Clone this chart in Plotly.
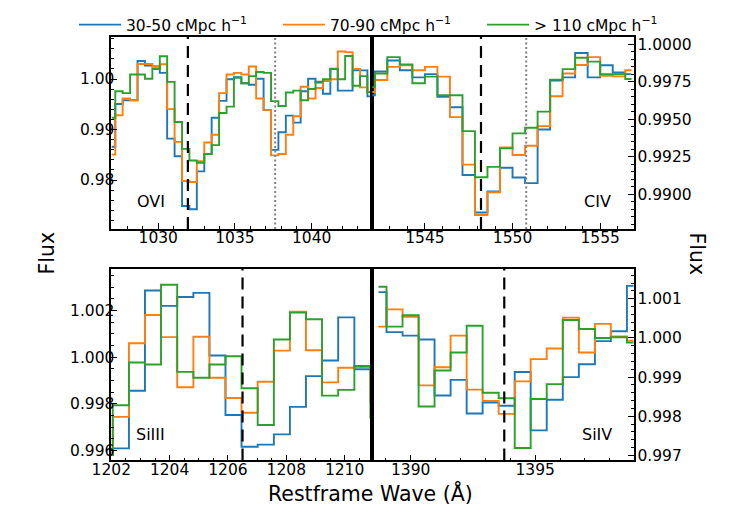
import plotly.graph_objects as go

# OVI panel (restframe wavelength, Angstrom) and stacked flux
wave_ovi = [1026.96, 1027.44, 1027.92, 1028.41, 1028.89, 1029.37, 1029.86, 1030.34,
            1030.82, 1031.31, 1031.79, 1032.27, 1032.76, 1033.24, 1033.72, 1034.21,
            1034.69, 1035.17, 1035.66, 1036.14, 1036.62, 1037.11, 1037.59, 1038.07,
            1038.56, 1039.04, 1039.52, 1040.01, 1040.49, 1040.97, 1041.46, 1041.94,
            1042.42, 1042.91, 1043.39, 1043.87]
ovi_30_50 = [0.98660, 0.99505, 0.99581, 0.99581, 1.00356, 1.00267, 1.00248, 1.00121,
             0.98819, 0.98470, 0.97486, 0.97422, 0.98171, 0.98514, 0.99232, 0.99568,
             0.99994, 1.00038, 0.99917, 0.99886, 1.00006, 0.99390, 0.98597, 0.98946,
             0.99276, 0.99137, 0.99759, 1.00006, 0.99930, 0.99708, 1.00203, 0.99771,
             0.99771, 1.00171, 1.00171, 0.99657]
ovi_70_90 = [0.98502, 0.99283, 0.99613, 0.99581, 1.00298, 1.00298, 1.00248, 1.00292,
             0.99403, 0.98756, 0.97981, 0.97962, 0.98375, 0.98743, 0.98895, 0.99721,
             1.00089, 1.00121, 1.00089, 1.00248, 0.99613, 0.99390, 0.98489, 0.98514,
             0.98895, 0.99263, 0.99848, 0.99613, 0.99822, 0.99962, 0.99994, 1.00546,
             1.00533, 1.00197, 0.99835, 0.99740]
ovi_110 = [0.99232, 0.99759, 0.99721, 1.00089, 1.00089, 1.00006, 1.00197, 1.00451,
           0.99943, 0.99149, 0.98616, 0.98387, 0.98343, 0.98514, 0.98692, 0.99327,
           0.99454, 1.00025, 0.99917, 1.00057, 1.00140, 1.00121, 0.99562, 0.99467,
           0.99733, 0.99771, 0.99581, 0.99803, 0.99949, 0.99994, 1.00197, 0.99994,
           1.00457, 0.99867, 1.00057, 0.99740]

# CIV panel
wave_civ = [1541.79, 1542.50, 1543.21, 1543.93, 1544.64, 1545.36, 1546.07, 1546.79,
            1547.50, 1548.21, 1548.93, 1549.64, 1550.36, 1551.07, 1551.79, 1552.50,
            1553.21, 1553.93, 1554.64, 1555.36, 1556.07, 1556.79]
civ_30_50 = [0.99660, 0.99818, 0.99892, 0.99827, 0.99779, 0.99801, 0.99649, 0.99580,
             0.99128, 0.98878, 0.99019, 0.99176, 0.99111, 0.99074, 0.99432, 0.99758,
             0.99779, 0.99942, 0.99779, 0.99860, 0.99812, 0.99801]
civ_70_90 = [0.99682, 0.99762, 0.99849, 0.99860, 0.99827, 0.99849, 0.99784, 0.99514,
             0.99197, 0.98861, 0.99013, 0.99312, 0.99262, 0.99323, 0.99454, 0.99653,
             0.99805, 0.99862, 0.99914, 0.99790, 0.99786, 0.99827]
civ_110 = [0.99714, 0.99805, 0.99914, 0.99866, 0.99740, 0.99784, 0.99660, 0.99660,
           0.99421, 0.99113, 0.99182, 0.99306, 0.99406, 0.99443, 0.99551, 0.99764,
           0.99834, 0.99910, 0.99884, 0.99801, 0.99801, 0.99768]

# SiIII panel
wave_si3 = [1201.77, 1202.33, 1202.88, 1203.43, 1203.98, 1204.54, 1205.09, 1205.64,
            1206.19, 1206.74, 1207.30, 1207.85, 1208.40, 1208.95, 1209.50, 1210.06,
            1210.61, 1211.16]
si3_30_50 = [0.99580, 0.99609, 0.99856, 1.00286, 1.00220, 1.00258, 1.00276, 1.00007,
             0.99752, 0.99616, 0.99625, 0.99669, 0.99787, 0.99919, 0.99986, 1.00171,
             0.99948, 0.99944]
si3_70_90 = [0.99580, 0.99744, 1.00060, 1.00181, 1.00086, 0.99871, 1.00088, 0.99912,
             0.99825, 0.99762, 0.99895, 1.00028, 1.00195, 1.00030, 0.99892, 0.99955,
             0.99958, 0.99811]
si3_110 = [0.99580, 0.99794, 0.99977, 0.99969, 1.00311, 0.99937, 0.99912, 0.99969,
           1.00004, 0.99867, 0.99709, 1.00076, 1.00191, 1.00163, 0.99835, 0.99860,
           0.99962, 0.99741]

# SiIV panel
wave_si4 = [1388.71, 1389.35, 1390.00, 1390.64, 1391.28, 1391.93, 1392.57, 1393.21,
            1393.86, 1394.50, 1395.14, 1395.79, 1396.43, 1397.08, 1397.72, 1398.36,
            1399.01]
si4_30_50 = [1.00117, 1.00015, 1.00006, 0.99996, 0.99853, 0.99893, 0.99807, 0.99835,
             0.99827, 0.99913, 0.99764, 0.99842, 0.99900, 0.99933, 0.99992, 1.00017,
             1.00133]
si4_70_90 = [1.00029, 1.00073, 1.00054, 0.99879, 0.99925, 1.00006, 0.99868, 0.99839,
             0.99806, 0.99889, 0.99946, 0.99973, 1.00052, 0.99963, 1.00036, 1.00004,
             0.99993]
si4_110 = [1.00131, 1.00029, 1.00058, 0.99825, 0.99917, 0.99963, 1.00031, 0.99860,
           0.99846, 0.99719, 0.99844, 0.99882, 1.00046, 1.00023, 1.00000, 1.00002,
           0.99988]

series_names = ["30-50 cMpc h<sup>\u22121</sup>", "70-90 cMpc h<sup>\u22121</sup>",
                "&gt; 110 cMpc h<sup>\u22121</sup>"]
colors = ["#1f77b4", "#ff7f0e", "#2ca02c"]

ion_names = ["OVI", "CIV", "SiIII", "SiIV"]
ion_strong = [1031.93, 1548.20, 1206.50, 1393.76]   # dashed lines
ion_weak = [1037.62, 1550.78, None, None]            # dotted lines

panels = [
    (wave_ovi, [ovi_30_50, ovi_70_90, ovi_110]),
    (wave_civ, [civ_30_50, civ_70_90, civ_110]),
    (wave_si3, [si3_30_50, si3_70_90, si3_110]),
    (wave_si4, [si4_30_50, si4_70_90, si4_110]),
]

W, H = 747, 515
OFF = 8  # page body margin of the html

def px(x):
    return (x - OFF) / W

def py(y):
    return 1 - (y - OFF) / H

fig = go.Figure()

legend_ids = ["legend", "legend2", "legend3"]
for p, (wave, fluxes) in enumerate(panels):
    suffix = "" if p == 0 else str(p + 1)
    for s, flux in enumerate(fluxes):
        fig.add_trace(go.Scatter(x=wave, y=flux, mode="lines",
                                 line=dict(color=colors[s], width=1.9, shape="hvh"),
                                 name=series_names[s], showlegend=(p == 0),
                                 legend=legend_ids[s],
                                 xaxis="x" + suffix, yaxis="y" + suffix))

FONT = "DejaVu Sans"
TICK = 15.5
TITLE = 20.5
xl = [px(111.3), px(372.3)]
xr = [px(372.3), px(633.5)]
yt = [py(222), py(25)]
yb = [py(459), py(263)]

def xax(domain, rng, dtick, tick0, minor, anchor):
    return dict(domain=domain, range=rng, dtick=dtick, tick0=tick0, anchor=anchor,
                ticklabelstandoff=-6,
                ticks="inside", ticklen=6, tickwidth=1.2, tickcolor="black",
                minor=dict(ticks="inside", ticklen=3, dtick=minor, tick0=tick0,
                           tickcolor="black", tickwidth=1),
                showline=True, linecolor="black", linewidth=1.6, mirror=True,
                showgrid=False, zeroline=False, automargin=False,
                tickfont=dict(size=TICK, color="black", family=FONT))

def yax(domain, rng, dtick, tick0, minor, fmt, side, anchor, standoff):
    return dict(domain=domain, range=rng, dtick=dtick, tick0=tick0, anchor=anchor,
                side=side, tickformat=fmt, ticklabelstandoff=standoff,
                ticks="inside", ticklen=6, tickwidth=1.2, tickcolor="black",
                minor=dict(ticks="inside", ticklen=3, dtick=minor, tick0=tick0,
                           tickcolor="black", tickwidth=1),
                showline=True, linecolor="black", linewidth=1.6, mirror=True,
                showgrid=False, zeroline=False, automargin=False,
                tickfont=dict(size=TICK, color="black", family=FONT))

shapes = []
annotations = []
label_pos = [(0.151, 0.142), (0.862, 0.142), (0.151, 0.134), (0.859, 0.134)]
for p in range(4):
    suffix = "" if p == 0 else str(p + 1)
    shapes.append(dict(type="line", xref="x" + suffix, yref="y" + suffix + " domain",
                       x0=ion_strong[p], x1=ion_strong[p], y0=0, y1=1, layer="above",
                       line=dict(color="black", width=2.2, dash="12px,7px")))
    if ion_weak[p] is not None:
        shapes.append(dict(type="line", xref="x" + suffix, yref="y" + suffix + " domain",
                           x0=ion_weak[p], x1=ion_weak[p], y0=0, y1=1, layer="above",
                           line=dict(color="grey", width=2, dash="2px,2.5px")))
    annotations.append(dict(text=ion_names[p], xref="x" + suffix + " domain",
                            yref="y" + suffix + " domain", x=label_pos[p][0],
                            y=label_pos[p][1], xanchor="center", yanchor="middle",
                            showarrow=False,
                            font=dict(size=16, color="black", family=FONT)))

annotations += [
    dict(text="Flux", xref="paper", yref="paper", x=px(47), y=py(247),
         xanchor="center", yanchor="middle", textangle=-90, showarrow=False,
         font=dict(size=TITLE, color="black", family=FONT)),
    dict(text="Flux", xref="paper", yref="paper", x=px(697), y=py(247),
         xanchor="center", yanchor="middle", textangle=90, showarrow=False,
         font=dict(size=TITLE, color="black", family=FONT)),
    dict(text="Restframe Wave (\u00c5)", xref="paper", yref="paper", x=px(370),
         y=py(492), xanchor="center", yanchor="middle", showarrow=False,
         font=dict(size=TITLE, color="black", family=FONT)),
]

def leg(x_line):
    return dict(orientation="h", x=px(x_line - 5), y=py(12.7), xanchor="left",
                yanchor="middle", bgcolor="rgba(0,0,0,0)", itemwidth=42,
                font=dict(size=TICK, color="black", family=FONT))

fig.update_layout(
    template="none",
    width=W, height=H,
    margin=dict(l=0, r=0, t=0, b=0),
    paper_bgcolor="white", plot_bgcolor="white",
    font=dict(family=FONT, color="black"),
    xaxis=xax(xl, [1026.94, 1043.95], 5, 1030, 1, "y"),
    yaxis=yax(yt, [0.9703, 1.0084], 0.01, 1.0, 0.002, ".2f", "left", "x", -8),
    xaxis2=xax(xr, [1542.0, 1556.9], 5, 1545, 1, "y2"),
    yaxis2=yax(yt, [0.98768, 1.00051], 0.0025, 1.0, 0.0005, ".4f", "right", "x2", -1),
    xaxis3=xax(xl, [1202.0, 1210.95], 2, 1202, 0.5, "y3"),
    yaxis3=yax(yb, [0.99557, 1.00378], 0.002, 1.0, 0.0005, ".3f", "left", "x3", -8),
    xaxis4=xax(xr, [1388.46, 1398.95], 5, 1390, 1, "y4"),
    yaxis4=yax(yb, [0.99687, 1.00176], 0.001, 1.0, 0.0002, ".3f", "right", "x4", -1),
    shapes=shapes,
    annotations=annotations,
    legend=leg(79),
    legend2=leg(283),
    legend3=leg(487),
    showlegend=True,
)

fig.write_html("out.html")
